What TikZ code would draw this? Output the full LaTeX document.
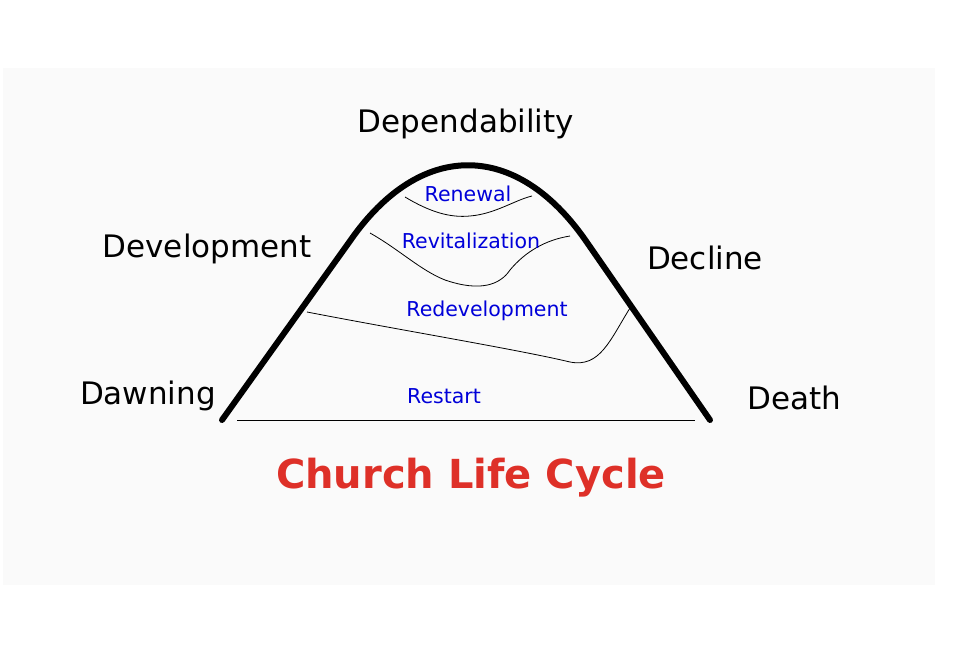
\documentclass[tikz,border=0pt]{standalone}
\usepackage{fontspec}
\setmainfont{DejaVu Sans}
\definecolor{titlered}{RGB}{222,48,40}
\begin{document}
\begin{tikzpicture}[x=1pt,y=-1pt,
  lbl/.style={font=\fontsize{31}{36}\selectfont,text=black},
  blbl/.style={font=\fontsize{20.5}{24}\selectfont,text=blue!85!black},
  thin/.style={line width=0.8pt}]
\useasboundingbox (0,0) rectangle (956,648);
\fill[white] (0,0) rectangle (956,648);
\fill[black!2] (3,68) rectangle (935,585);
\draw[line width=6pt,line cap=round] (222,420) -- (350,241) .. controls (420,140) and (516,140) .. (586,241) -- (710,420);
\draw[thin] (405,197) .. controls (430,212) and (450,218) .. (470,216) .. controls (495,214) and (515,200) .. (532,196);
\draw[thin] (370,233) .. controls (400,250) and (420,270) .. (445,280) .. controls (480,292) and (500,285) .. (510,270) .. controls (525,252) and (545,240) .. (570,236);
\draw[thin] (307,312) .. controls (400,330) and (520,350) .. (570,362) .. controls (600,368) and (610,340) .. (630,308);
\draw[thin] (237,420) -- (695,420);
\node[lbl] (dep) at (466,124) {Dependability};
\node[lbl] (dev) at (207,249) {Development};
\node[lbl] (dec) at (705,258) {Decline};
\node[lbl] (daw) at (148,396) {Dawning};
\node[lbl] (dea) at (794,398) {Death};
\node[blbl] (ren) at (468,194) {Renewal};
\node[blbl] (rev) at (471,241) {Revitalization};
\node[blbl] (red) at (487,311) {Redevelopment};
\node[blbl] (res) at (444,396) {Restart};
\node[font=\fontsize{40}{44}\selectfont\bfseries,text=titlered] (title) at (471,478) {Church Life Cycle};
\end{tikzpicture}
\end{document}
